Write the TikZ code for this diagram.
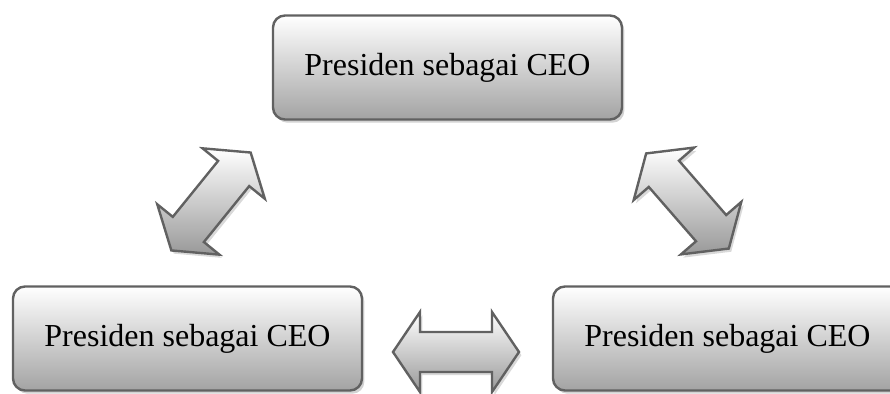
\documentclass[tikz,border=0pt]{standalone}
\usepackage{fontspec}
\setmainfont{Liberation Serif}
\usetikzlibrary{shadows}

\tikzset{
  ceobox/.style={draw=black!62, line width=1.2pt, rounded corners=6pt,
                 top color=white, bottom color=black!36,
                 minimum width=174.5pt, minimum height=52pt,
                 font=\fontsize{16}{19}\selectfont,
                 drop shadow={shadow xshift=1.2pt, shadow yshift=-1.6pt, opacity=0.35}},
  arrowbody/.style={draw=black!62, line width=1.2pt, line join=miter,
                 top color=white, bottom color=black!40,
                 drop shadow={shadow xshift=1.2pt, shadow yshift=-1.6pt, opacity=0.3}},
  dblarrow/.pic={
    \draw[arrowbody, pic actions] (-63,0) -- (-36,40) -- (-36,20) -- (36,20)
        -- (36,40) -- (63,0) -- (36,-40) -- (36,-20) -- (-36,-20)
        -- (-36,-40) -- cycle;
  }
}

\begin{document}
\begin{tikzpicture}[x=0.5pt, y=0.5pt]
  \useasboundingbox (0,0) rectangle (890,394);

  % boxes
  \node[ceobox] (top)   at (447.5,326.5) {Presiden sebagai CEO};
  \node[ceobox] (left)  at (187.5,55.5)  {Presiden sebagai CEO};
  \node[ceobox] (right) at (727.5,55.5)  {Presiden sebagai CEO};

  % arrows between the boxes
  \coordinate (arrLT) at (211,192.5);
  \coordinate (arrRT) at (687.5,193);
  \coordinate (arrLR) at (456,42);
  \pic[rotate=51]  at (arrLT) {dblarrow};
  \pic[rotate=-49] at (arrRT) {dblarrow};
  \pic[bottom color=black!25] at (arrLR) {dblarrow};
\end{tikzpicture}
\end{document}
